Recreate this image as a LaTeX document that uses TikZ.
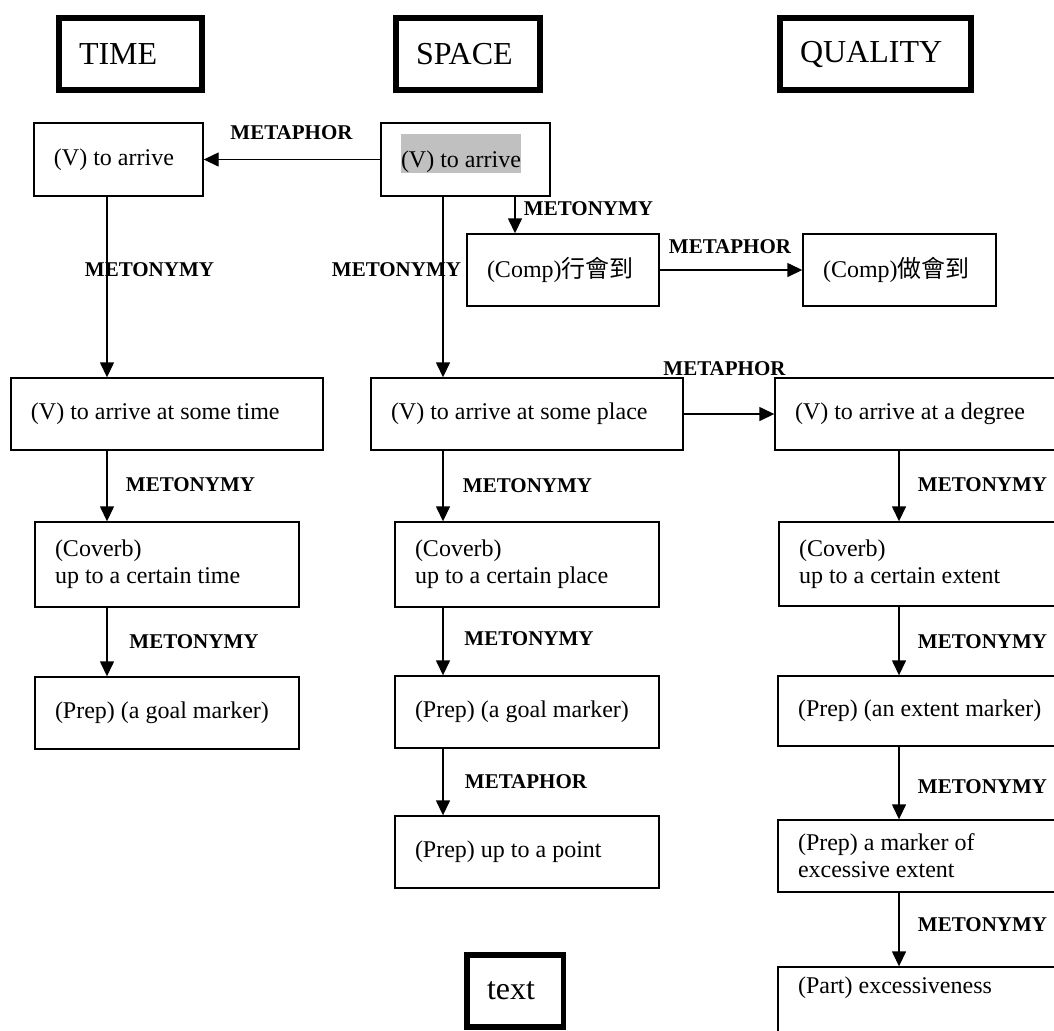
\documentclass[tikz,border=0pt]{standalone}
\usepackage{fontspec}
\setmainfont{Liberation Serif}
\newfontfamily\cjk{Noto Sans CJK TC}
\usepackage{xcolor}
\usepackage{tikz}
\usetikzlibrary{arrows.meta}
\definecolor{hlgray}{RGB}{192,192,192}
\newcommand{\hlbox}[1]{{\setlength{\fboxsep}{0pt}\colorbox{hlgray}{\rule[-3pt]{0pt}{19.5pt}#1}\rule[-9pt]{0pt}{9pt}}}
\tikzset{
  head/.style 2 args={draw,line width=2.75pt,inner xsep=10pt,inner ysep=0pt,
    text width=#1,minimum height=#2,align=flush left,font=\fontsize{16}{19}\selectfont},
  cell/.style 2 args={draw,line width=0.7pt,inner xsep=10pt,inner ysep=0pt,
    text width=#1,minimum height=#2,align=flush left,font=\fontsize{12}{13.5}\selectfont},
  lbl/.style={inner sep=0pt,font=\bfseries\fontsize{10.5}{12}\selectfont},
  arr/.style={line width=0.7pt,-{Triangle[length=7.5pt,width=7pt]}}
}

\begin{document}
\begin{tikzpicture}[x=0.5pt,y=-0.5pt]
    \useasboundingbox (0,0) rectangle (1054,1030);
    \clip (0,0) rectangle (1054,1030);
    % domains
    \node[head={51.5pt}{36pt}] (hTime) at (130.5,54) {TIME};
    \node[head={52pt}{36pt}] (hSpace) at (468,54) {SPACE};
    \node[head={75.5pt}{36pt}] (hQual) at (875.5,54) {QUALITY};
    \node[head={28.25pt}{36pt}] (hText) at (515.25,991) {text};
    % time
    \node[cell={64.5pt}{36.5pt}] (tArrive) at (118.5,159.5) {(V) to arrive};
    \node[cell={136pt}{36pt}] (tSome) at (167,414) {(V) to arrive at some time};
    \node[cell={112pt}{42.5pt}] (tCov) at (167,564.5) {(Coverb)\\up to a certain time};
    \node[cell={112pt}{36pt}] (tPrep) at (167,713) {(Prep) (a goal marker)};
    % space
    \node[cell={64.5pt}{36.5pt}] (sArrive) at (465.5,159.5) {\hlbox{(V) to arrive}};
    \node[cell={76pt}{36pt}] (comp1) at (563,270) {(Comp){\cjk 行會到}};
    \node[cell={76.5pt}{36pt}] (comp2) at (899.5,270) {(Comp){\cjk 做會到}};
    \node[cell={136pt}{36pt}] (sSome) at (527,414) {(V) to arrive at some place};
    \node[cell={112pt}{42.5pt}] (sCov) at (527,564.5) {(Coverb)\\up to a certain place};
    \node[cell={112pt}{36pt}] (sPrep) at (527,712) {(Prep) (a goal marker)};
    \node[cell={112pt}{36pt}] (sPoint) at (527,852) {(Prep) up to a point};
    % quality
    \node[cell={132.5pt}{36pt}] (qSome) at (927.5,414) {(V) to arrive at a degree};
    \node[cell={130.5pt}{42pt}] (qCov) at (929.5,564) {(Coverb)\\up to a certain extent};
    \node[cell={131pt}{35pt}] (qPrep) at (929,711) {(Prep) (an extent marker)};
    \node[cell={131pt}{36pt}] (qMark) at (929,856) {(Prep) a marker of\\excessive extent};
    \node[cell={131pt}{36pt}] (qPart) at (929,1003) {(Part) excessiveness\\\strut};
    %
    \coordinate (tcol) at (107,0);
    \coordinate (scol) at (443,0);
    \coordinate (ccol) at (515,0);
    \coordinate (qcol) at (899,0);
    \draw[arr] (sArrive.west) -- (tArrive.east);
    \draw[arr] (tArrive.south -| tcol) -- (tSome.north -| tcol);
    \draw[arr] (tSome.south -| tcol) -- (tCov.north -| tcol);
    \draw[arr] (tCov.south -| tcol) -- (tPrep.north -| tcol);
    \draw[arr] (sArrive.south -| scol) -- (sSome.north -| scol);
    \draw[arr] (sArrive.south -| ccol) -- (comp1.north -| ccol);
    \draw[arr] (comp1.east) -- (comp2.west);
    \draw[arr] (sSome.east) -- (qSome.west);
    \draw[arr] (sSome.south -| scol) -- (sCov.north -| scol);
    \draw[arr] (sCov.south -| scol) -- (sPrep.north -| scol);
    \draw[arr] (sPrep.south -| scol) -- (sPoint.north -| scol);
    \draw[arr] (qSome.south -| qcol) -- (qCov.north -| qcol);
    \draw[arr] (qCov.south -| qcol) -- (qPrep.north -| qcol);
    \draw[arr] (qPrep.south -| qcol) -- (qMark.north -| qcol);
    \draw[arr] (qMark.south -| qcol) -- (qPart.north -| qcol);
    %
    \node[lbl] (lMetaTop) at (291.5,133) {METAPHOR};
    \node[lbl] (lTime1) at (149.5,270) {METONYMY};
    \node[lbl] (lTime2) at (190.5,485) {METONYMY};
    \node[lbl] (lTime3) at (194,642) {METONYMY};
    \node[lbl] (lSpace1) at (396.5,270) {METONYMY};
    \node[lbl] (lComp) at (588.5,209) {METONYMY};
    \node[lbl] (lMetaComp) at (730,247) {METAPHOR};
    \node[lbl] (lMetaDeg) at (724.5,369) {METAPHOR};
    \node[lbl] (lSpace2) at (527.5,486) {METONYMY};
    \node[lbl] (lSpace3) at (529,639) {METONYMY};
    \node[lbl] (lSpace4) at (526,782) {METAPHOR};
    \node[lbl] (lQual1) at (982.5,485) {METONYMY};
    \node[lbl] (lQual2) at (982.5,642) {METONYMY};
    \node[lbl] (lQual3) at (982.5,787) {METONYMY};
    \node[lbl] (lQual4) at (982.5,925) {METONYMY};
\end{tikzpicture}
\end{document}
